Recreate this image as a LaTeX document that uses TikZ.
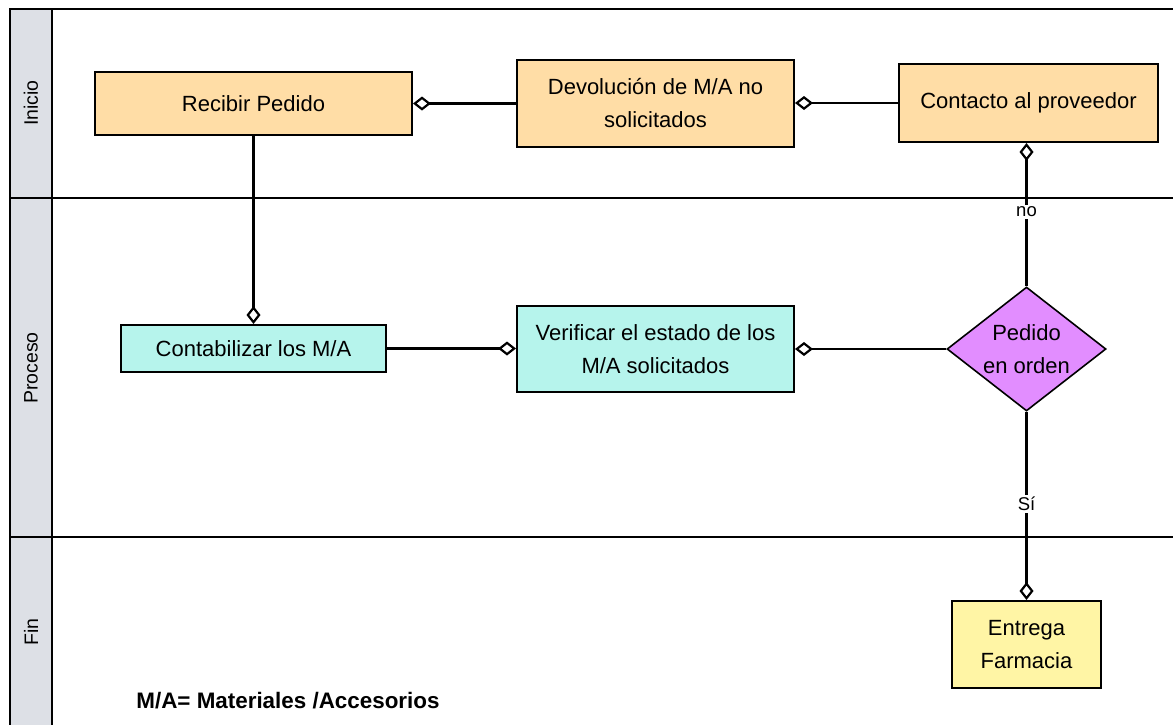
\documentclass[tikz,border=0pt]{standalone}
\usepackage{fontspec}
\setmainfont{Liberation Sans}
\usetikzlibrary{arrows.meta,shapes.geometric}
\definecolor{laneGray}{HTML}{DDE0E6}
\definecolor{stepOrange}{HTML}{FFDDA6}
\definecolor{stepTeal}{HTML}{B6F4EC}
\definecolor{stepYellow}{HTML}{FFF5A5}
\definecolor{decPurple}{HTML}{E28DFF}
\tikzset{
  stepbox/.style={draw=black, line width=2pt, align=center, inner sep=0pt,
    font=\fontsize{22}{33}\selectfont},
  decision/.style={diamond, draw=black, line width=1.6pt, fill=decPurple, align=center,
    inner sep=0pt, minimum width=159pt, minimum height=124pt, aspect=1.28,
    font=\fontsize{22}{33}\selectfont},
  flow/.style={line width=2.2pt, -{Diamond[open, length=18pt, width=14pt, line width=2.2pt]}},
  lanelabel/.style={rotate=90, font=\fontsize{19.5}{21}\selectfont},
  flowlabel/.style={fill=white, inner sep=2pt, font=\fontsize{18.5}{20}\selectfont},
  frame/.style={line width=2.2pt}
}
\begin{document}
\begin{tikzpicture}[x=1pt, y=-1pt]
  \useasboundingbox (0,0) rectangle (1173,724);
  % swimlane frame and label column
  \fill[laneGray] (10,9) rectangle (52,730);
  \draw[frame] (1190,9) -- (10,9) -- (10,730);
  \draw[frame] (52,9) -- (52,730);
  \draw[frame] (10,198) -- (1190,198);
  \draw[frame] (10,537) -- (1190,537);
  \node[lanelabel] (lInicio) at (31,103) {Inicio};
  \node[lanelabel] (lProceso) at (31,368) {Proceso};
  \node[lanelabel] (lFin) at (31,632) {Fin};

  % lane "Inicio"
  \node[stepbox, fill=stepOrange, minimum width=317pt, minimum height=63pt] (rec) at (253.5,103.5) {Recibir Pedido};
  \node[stepbox, fill=stepOrange, minimum width=277pt, minimum height=87pt] (dev) at (655.5,103.5) {Devolución de M/A no\\solicitados};
  \node[stepbox, fill=stepOrange, minimum width=259pt, minimum height=78pt] (con) at (1028.5,103) {Contacto al proveedor};

  % lane "Proceso"
  \node[stepbox, fill=stepTeal, minimum width=265pt, minimum height=47pt] (cont) at (253.5,348.5) {Contabilizar los M/A};
  \node[stepbox, fill=stepTeal, minimum width=277pt, minimum height=86pt] (ver) at (655.5,349) {Verificar el estado de los\\M/A solicitados};
  \node[decision] (dia) at (1026.5,349) {Pedido\\en orden};

  % lane "Fin"
  \node[stepbox, fill=stepYellow, minimum width=149pt, minimum height=87pt] (ent) at (1026.5,644.5) {Entrega\\Farmacia};
  \node[font=\bfseries\fontsize{22.4}{24}\selectfont] (nota) at (288,701) {M/A= Materiales /Accesorios};

  % connectors
  \draw[flow] (dev.west) -- (rec.east);
  \draw[flow] (con.west) -- (con.west -| dev.east);
  \draw[flow] (rec.south) -- (cont.north);
  \draw[flow] (cont.east) -- (cont.east -| ver.west);
  \draw[flow] (dia.west) -- (ver.east);
  \draw[flow] (dia.north) -- node[flowlabel, pos=0.52] (lno) {no} (dia.north |- con.south);
  \draw[flow] (dia.south) -- node[flowlabel, pos=0.49] (lsi) {Sí} (dia.south |- ent.north);
\end{tikzpicture}
\end{document}
